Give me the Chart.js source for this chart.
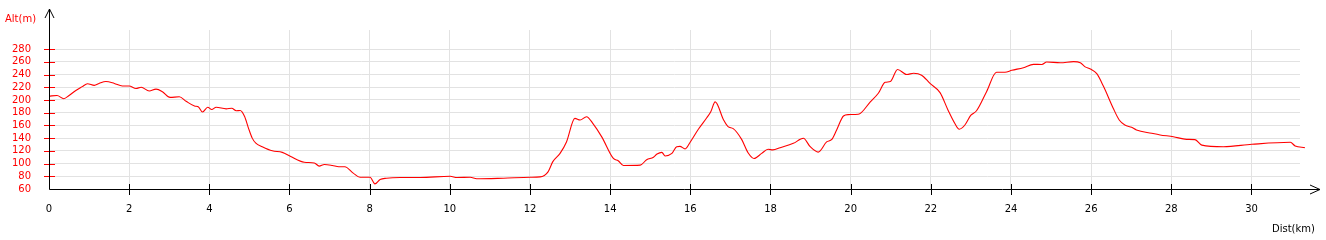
<!DOCTYPE html>
<html>
<head>
<meta charset="utf-8">
<script src="https://cdn.jsdelivr.net/npm/chart.js@4"></script>
<style>
  html, body { margin: 0; padding: 0; background: #fff; }
  #wrap { width: 1326px; height: 240px; }
</style>
</head>
<body>
<div id="wrap"><canvas id="profile" width="1326" height="240"></canvas></div>
<script>
"use strict";

// distance (km) and altitude (m)
const dist = [
    0.0, 0.2, 0.37, 0.5, 0.67, 0.83, 0.96, 1.13, 1.25, 1.42, 1.63, 1.83, 2.0, 2.17, 2.3, 2.5, 2.67, 2.83,
    3.02, 3.25, 3.42, 3.63, 3.73, 3.83, 3.96, 4.06, 4.17, 4.42, 4.56, 4.67, 4.77, 4.88, 4.98, 5.07, 5.16,
    5.32, 5.57, 5.82, 6.03, 6.37, 6.62, 6.74, 6.87, 7.07, 7.23, 7.38, 7.59, 7.76, 8.01, 8.13, 8.26, 8.42,
    8.76, 9.26, 10.01, 10.18, 10.51, 10.67, 11.34, 12.01, 12.25, 12.45, 12.57, 12.75, 12.91, 13.12, 13.25,
    13.41, 13.58, 13.79, 14.08, 14.2, 14.33, 14.75, 14.91, 15.08, 15.17, 15.29, 15.37, 15.54, 15.66, 15.74,
    15.87, 16.0, 16.2, 16.41, 16.51, 16.62, 16.83, 16.94, 17.07, 17.28, 17.44, 17.59, 17.78, 17.94, 18.06,
    18.24, 18.57, 18.82, 18.99, 19.19, 19.4, 19.53, 19.65, 19.82, 19.94, 20.19, 20.49, 20.69, 20.86, 20.99,
    21.17, 21.4, 21.57, 21.77, 21.98, 22.23, 22.43, 22.6, 22.71, 22.85, 23.0, 23.14, 23.39, 23.64, 23.85,
    24.02, 24.31, 24.56, 24.77, 24.89, 25.23, 25.56, 25.73, 25.85, 25.98, 26.14, 26.31, 26.55, 26.7, 26.84,
    27.01, 27.13, 27.51, 27.72, 28.05, 28.38, 28.59, 28.76, 29.3, 30.01, 30.97, 31.09, 31.33
];
const alt = [
    206, 207, 202, 207, 215, 221, 225.6, 223, 226, 229, 226, 222, 222, 218, 220, 214, 217, 213,
    204, 205, 198, 190.5, 189, 181, 188.5, 185, 188.5, 186, 187, 183, 183.5, 174, 155, 140, 132,
    126.5, 120, 117.6, 111, 102, 101, 96, 98.5, 97, 95, 95, 85, 78.4, 78.4, 68, 75, 77,
    78, 78, 80, 78, 78.5, 76, 77, 78.5, 79, 87, 103, 116, 134, 171, 168.5,
    173.7, 162, 142, 108, 104.5, 97, 97.5, 106, 110, 115, 117.6, 112, 116, 126.5, 127,
    123, 134, 154, 172, 181.5, 197, 168.5, 158, 155, 138, 117, 108, 116, 122.4, 121.5,
    125, 131.8, 139.7, 126.5, 118, 134, 138, 152.8, 174.8, 177, 177.5, 197, 210.5, 227.7, 229,
    248, 240, 242, 239, 226, 211.5, 184, 163, 154, 160.6, 176, 183, 213, 243.5, 243.5,
    246.6, 250.7, 256, 255.8, 259.7, 258.5, 260.3, 258.5, 252, 248.6, 241.3, 221, 187, 168.5, 160.6,
    157, 152.8, 147.6, 145, 142.2, 138, 137.7, 129, 126.5, 130.3, 133.4, 127.6, 125
];
const xTicks = [0, 2, 4, 6, 8, 10, 12, 14, 16, 18, 20, 22, 24, 26, 28, 30];
const yTicks = [60, 80, 100, 120, 140, 160, 180, 200, 220, 240, 260, 280];

const FONT = "DejaVu Sans, Verdana, sans-serif";

// axes with arrows, tick marks and axis names
const axesPlugin = {
    id: "axes",
    afterDraw(chart) {
        const ctx = chart.ctx;
        const xs = chart.scales.x;
        const ys = chart.scales.y;
        const left = chart.chartArea.left;
        const bottom = chart.chartArea.bottom;
        ctx.save();
        ctx.lineWidth = 1;

        // y tick marks (red)
        ctx.strokeStyle = "#ff0000";
        ctx.beginPath();
        yTicks.slice(1).forEach(function(v) {
            const y = Math.round(ys.getPixelForValue(v)) + 0.5;
            ctx.moveTo(left - 5, y);
            ctx.lineTo(left + 6, y);
        });
        ctx.stroke();

        ctx.strokeStyle = "#000";
        ctx.beginPath();
        // x tick marks
        xTicks.slice(1).forEach(function(v) {
            const x = Math.round(xs.getPixelForValue(v)) + 0.5;
            ctx.moveTo(x, bottom - 5);
            ctx.lineTo(x, bottom + 6);
        });
        // y axis + arrow
        const ax = Math.round(left) + 0.5;
        const by = Math.round(bottom) + 0.5;
        ctx.moveTo(ax, by);
        ctx.lineTo(ax, 9);
        ctx.moveTo(ax - 4.5, 18);
        ctx.lineTo(ax, 9);
        ctx.lineTo(ax + 4.5, 18);
        // x axis + arrow
        ctx.moveTo(ax, by);
        ctx.lineTo(1320, by);
        ctx.moveTo(1310, by - 4.5);
        ctx.lineTo(1320, by);
        ctx.lineTo(1310, by + 4.5);
        ctx.stroke();

        ctx.font = "10px " + FONT;
        ctx.textBaseline = "middle";
        ctx.textAlign = "left";
        ctx.fillStyle = "#ff0000";
        ctx.fillText("Alt(m)", 5, 19);
        ctx.fillStyle = "#000";
        ctx.fillText("Dist(km)", 1272, 229);
        ctx.restore();
    }
};

window.addEventListener("load", function() {
    const ctx = document.getElementById("profile");
    new Chart(ctx, {
        "type": "line",
        "data": {
            "datasets": [
                {
                    "label": "Alt",
                    "data": dist.map(function(d, i) { return { "x": d, "y": alt[i] }; }),
                    "borderColor": "#ff0000",
                    "borderWidth": 1.1,
                    "pointRadius": 0,
                    "tension": 0.3,
                    "cubicInterpolationMode": "monotone",
                    "fill": false,
                    "clip": false
                }
            ]
        },
        "options": {
            "responsive": false,
            "animation": false,
            "events": [],
            "layout": { "padding": { "top": 30, "right": 26, "left": 0, "bottom": 0 } },
            "plugins": {
                "legend": { "display": false },
                "tooltip": { "enabled": false }
            },
            "scales": {
                "x": {
                    "type": "linear",
                    "min": 0,
                    "max": 31.21,
                    "afterBuildTicks": function(scale) {
                        scale.ticks = xTicks.map(function(v) { return { "value": v }; });
                    },
                    "afterFit": function(scale) { scale.height = 51; },
                    "border": { "display": false },
                    "grid": { "color": "#e2e2e2", "lineWidth": 1, "drawTicks": false },
                    "ticks": {
                        "color": "#000",
                        "font": { "family": FONT, "size": 10 },
                        "padding": 14,
                        "maxRotation": 0,
                        "autoSkip": false
                    }
                },
                "y": {
                    "type": "linear",
                    "min": 60,
                    "max": 310,
                    "afterBuildTicks": function(scale) {
                        scale.ticks = yTicks.map(function(v) { return { "value": v }; });
                    },
                    "afterFit": function(scale) { scale.width = 49; },
                    "border": { "display": false },
                    "grid": { "color": "#e2e2e2", "lineWidth": 1, "drawTicks": false },
                    "ticks": {
                        "color": "#ff0000",
                        "font": { "family": FONT, "size": 10 },
                        "padding": 18,
                        "autoSkip": false
                    }
                }
            }
        },
        "plugins": [axesPlugin]
    });
});
</script>
</body>
</html>
